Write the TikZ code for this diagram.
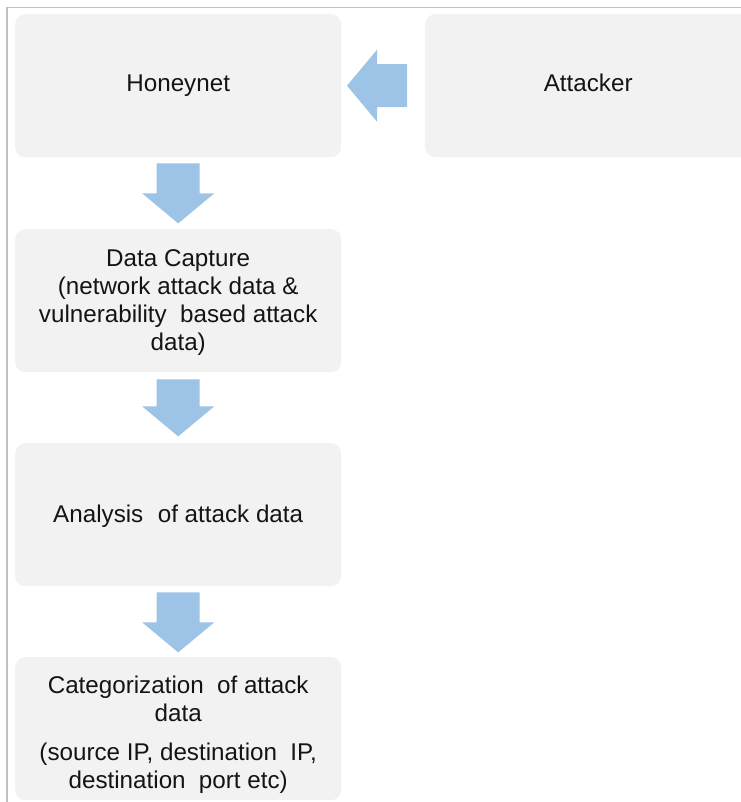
\documentclass[tikz,border=0pt]{standalone}
\usepackage{fontspec}
\setmainfont{Liberation Sans}
\usetikzlibrary{calc}

\definecolor{boxfill}{RGB}{242,242,242}
\definecolor{arrowfill}{RGB}{157,195,230}
\definecolor{framegrey}{RGB}{192,192,192}

\tikzset{
  stagebox/.style={fill=boxfill, rounded corners=10bp, minimum width=326bp,
    minimum height=143bp, inner sep=0pt, align=center, text=black!92,
    font=\fontsize{24.2bp}{28bp}\selectfont, anchor=north west},
  % block arrow pointing along +x, tail at the pic origin, length #1
  pics/blockarrow/.style={code={
    \fill[arrowfill] (0,-21.5) -- (#1-30,-21.5) -- (#1-30,-36) -- (#1,0)
      -- (#1-30,36) -- (#1-30,21.5) -- (0,21.5) -- cycle;
  }}
}

\begin{document}
\begin{tikzpicture}[x=1bp,y=-1bp]
  \useasboundingbox (0,0) rectangle (741,802);
  \clip (0,0) rectangle (741,802);

  % outer frame (top and left edges)
  \draw[framegrey, line width=1.6bp] (7,802) -- (7,7.5) -- (741,7.5);

  % stages
  \node[stagebox] (hn) at (15,14) {Honeynet};
  \node[stagebox] (att) at (425,14) {Attacker\rule[-5bp]{0pt}{0pt}};
  \node[stagebox] (dc) at (15,229) {\rule{0pt}{21bp}Data Capture\\(network attack data \&\\vulnerability\ \ based attack\\data)};
  \node[stagebox] (an) at (15,443) {\rule{0pt}{20bp}Analysis\hspace{0.6em}of attack data};
  \node[stagebox] (cat) at (15,657) {\rule{0pt}{30bp}Categorization\hspace{0.55em}of attack\\data\\[11bp](source IP, destination\hspace{0.55em}IP,\\destination\hspace{0.55em}port etc)};

  % flow arrows
  \pic[rotate=180] (a0) at ($(att.west)+(-18,0)$) {blockarrow=60};
  \pic[rotate=-90] (a1) at ($(hn.south)+(0,6)$) {blockarrow=60};
  \pic[rotate=-90] (a2) at ($(dc.south)+(0,7)$) {blockarrow=57};
  \pic[rotate=-90] (a3) at ($(an.south)+(0,6)$) {blockarrow=60};
\end{tikzpicture}
\end{document}
